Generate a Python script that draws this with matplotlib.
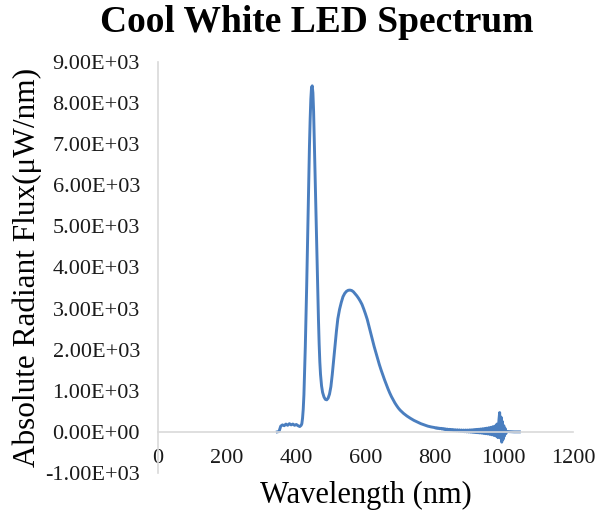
import matplotlib
matplotlib.use('Agg')
import matplotlib.pyplot as plt
from matplotlib.ticker import FuncFormatter, MultipleLocator

# wavelength (nm) and flux (uW/nm)
wl_base = [345, 350, 355, 360, 365, 370, 375, 380, 385, 390, 395, 400, 405, 410, 414]
fx_base = [0, 10, 140, 170, 150, 190, 160, 200, 170, 190, 160, 180, 150, 130, 160]

wl_blue = [416, 418, 420, 422, 424, 426, 428, 430, 432, 434, 436, 438, 440, 442, 444,
           446, 448, 450, 452, 454, 456, 458, 460, 462, 464, 466, 468, 470, 473, 476,
           480, 484, 488, 492, 496, 500]
fx_blue = [200, 330, 550, 900, 1450, 2070, 2800, 3550, 4400, 5330, 6200, 6950, 7600, 8100, 8380,
           8420, 8250, 7800, 7100, 6400, 5700, 4950, 4200, 3450, 2750, 2150, 1700, 1400, 1120, 960,
           850, 790, 780, 820, 920, 1100]

wl_phos = [504, 508, 512, 516, 520, 525, 530, 535, 540, 545, 550, 555, 560, 565, 570,
           575, 580, 585, 590, 595, 600, 605, 610, 615, 620, 625, 630, 635, 640, 645,
           650, 655, 660, 665, 670, 675, 680, 685, 690, 695, 700, 710, 720, 730, 740,
           750, 760, 770, 780, 790]
fx_phos = [1400, 1750, 2100, 2450, 2750, 2980, 3150, 3290, 3370, 3420, 3445, 3450, 3440, 3410, 3360,
           3310, 3250, 3180, 3100, 2990, 2870, 2740, 2580, 2410, 2240, 2080, 1930, 1780, 1640, 1510,
           1390, 1270, 1160, 1050, 950, 860, 780, 705, 640, 580, 530, 450, 385, 330, 280,
           240, 200, 170, 140, 120]

wl_tail = [800, 803, 806, 809, 812, 815, 818, 821, 824, 827, 830, 833, 836, 839, 842,
           845, 848, 851, 854, 857, 860, 863, 866, 869, 872, 875, 878, 881, 884, 887,
           890, 893, 896, 899, 902, 905, 908, 911, 914, 917, 920, 923, 926, 929, 932,
           935, 938, 941, 944, 947, 950, 953, 956, 959, 962, 965, 968, 971, 974, 977,
           980, 983, 986, 988, 990, 992, 994, 996, 998, 1000, 1002, 1004, 1006, 1008, 1020,
           1030, 1045]
fx_tail = [105, 92, 100, 84, 92, 78, 86, 70, 80, 62, 74, 55, 68, 48, 62,
           42, 58, 36, 55, 30, 52, 24, 50, 18, 48, 12, 46, 8, 45, 4,
           46, 0, 46, -4, 50, -8, 52, -12, 56, -16, 60, -20, 64, -26, 70,
           -30, 76, -38, 82, -44, 90, -50, 100, -60, 110, -70, 125, -85, 140, -100,
           190, -140, 300, 470, -150, 360, -250, 250, -180, 150, -100, 80, -40, 10, 5,
           0, 0]

wavelength = wl_base + wl_blue + wl_phos + wl_tail
flux = fx_base + fx_blue + fx_phos + fx_tail

plt.rcParams['font.family'] = ['Liberation Serif', 'DejaVu Serif']

fig = plt.figure(figsize=(5.95, 5.15), dpi=100)
ax = fig.add_axes([0.2655, 0.0816, 0.6975, 0.798])

ax.plot(wavelength, flux, color='#4A7EBF', lw=2.1)

ax.set_xlim(0, 1200)
ax.set_ylim(-1000, 9000)
ax.xaxis.set_major_locator(MultipleLocator(200))
ax.yaxis.set_major_locator(MultipleLocator(1000))
ax.yaxis.set_major_formatter(FuncFormatter(lambda v, p: f'{v:.2E}'))

for s in ['top', 'right']:
    ax.spines[s].set_visible(False)
ax.spines['bottom'].set_position(('data', 0))
ax.spines['bottom'].set_color('#D9D9D9')
ax.spines['left'].set_color('#D9D9D9')
ax.spines['bottom'].set_linewidth(1.2)
ax.spines['left'].set_linewidth(1.2)
ax.tick_params(length=0, labelsize=16, colors='#1a1a1a')
ax.tick_params(axis='x', pad=12)
ax.tick_params(axis='y', pad=13)

ax.set_xlabel('Wavelength (nm)', fontsize=22)
ax.set_ylabel('Absolute Radiant Flux(\u03bcW/nm)', fontsize=22.5, labelpad=2)
ax.xaxis.set_label_coords(0.5, -0.02)
fig.suptitle('Cool White LED Spectrum', fontsize=27, fontweight='bold', x=0.533, y=0.99)

fig.savefig('out.png', dpi=100)
